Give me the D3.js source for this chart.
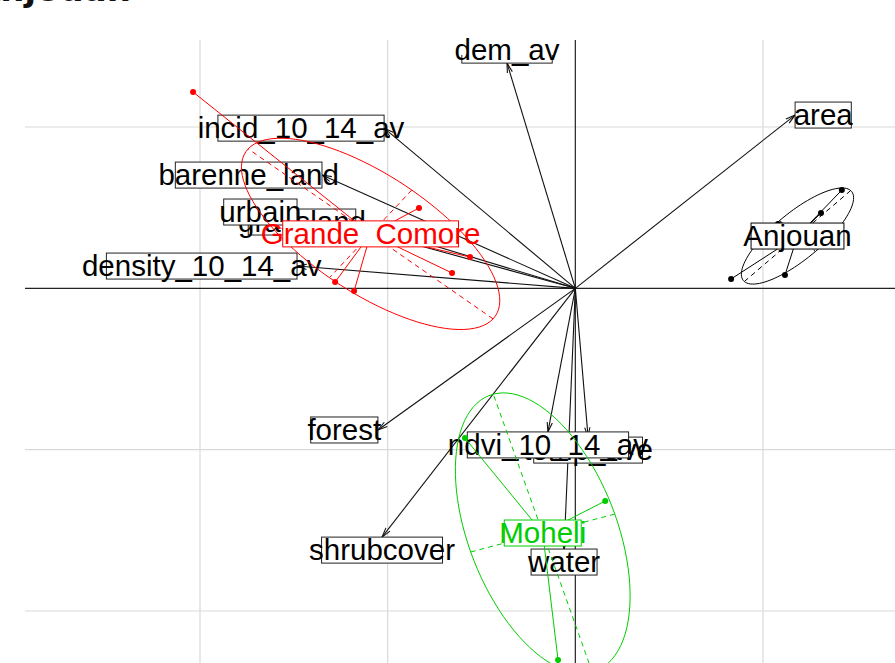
<!DOCTYPE html>
<html><head><meta charset="utf-8">
<script src="https://cdn.jsdelivr.net/npm/d3@7"></script>
<style>body{margin:0;background:#fff;} svg{display:block;}</style>
</head><body>
<svg id="chart" width="895" height="663"></svg>
<script>
// ---------------- data (grid units, origin at 0,0) ----------------
const titleText = "Anjouan";
const varNames = ["dem_av","area","incid_10_14_av","barenne_land","grassland","urbain","density_10_14_av","forest","shrubcover","temp_ave","ndvi_10_14_av","water"];
const varX = [-0.364, 1.171, -1.019, -1.350, -1.170, -1.483, -1.483, -1.052, -1.030, 0.068, -0.146, -0.060];
const varY = [ 1.396, 1.074,  0.993,  0.702,  0.411,  0.473,  0.138, -0.878, -1.542, -0.922, -0.890, -1.616];

const classNames = ["Anjouan","Grande Comore","Moheli"];
const classColors = ["#000000","#FF0000","#00CD00"];
const anjouanX = [1.420, 1.309, 1.117, 0.830, 1.080, 1.347];
const anjouanY = [0.609, 0.467, 0.082, 0.058, 0.399, 0.330];
const grandeComoreX = [-2.037, -0.833, -0.561, -0.657, -1.280, -1.179, -1.089];
const grandeComoreY = [ 1.217,  0.498,  0.194,  0.095,  0.039, -0.017,  0.337];
const moheliX = [-0.588, 0.159, -0.092];
const moheliY = [-0.928, -1.318, -2.304];

const gridX = [-2, -1, 1];
const gridY = [1, -1, -2];

// ---------------- layout ----------------
const W = 895, H = 663;
const plot = {left: 25, top: 40, right: 895, bottom: 663};
const fontSize = 29.5;
const boxH = 26;
const cellipse = 1.5;

const x = d3.scaleLinear().domain([-2, 1]).range([200, 763]);
const y = d3.scaleLinear().domain([1, -2]).range([127, 611]);

const svg = d3.select("#chart");
svg.append("rect").attr("width", W).attr("height", H).attr("fill", "#fff");

// cropped title
svg.append("text").attr("x", -26).attr("y", 1)
  .attr("font-family", "DejaVu Sans").attr("font-weight", "bold").attr("font-size", 34)
  .attr("fill", "#111").text(titleText);

const defs = svg.append("defs");
defs.append("clipPath").attr("id", "plotclip").append("rect")
  .attr("x", plot.left).attr("y", plot.top).attr("width", plot.right - plot.left).attr("height", plot.bottom - plot.top);
defs.append("clipPath").attr("id", "boxclip").append("rect")
  .attr("x", plot.left).attr("y", 55).attr("width", plot.right - plot.left).attr("height", plot.bottom - 55);

const g = svg.append("g").attr("clip-path", "url(#plotclip)");

// grid
g.selectAll("line.gx").data(gridX).enter().append("line")
  .attr("x1", d => x(d)).attr("x2", d => x(d)).attr("y1", plot.top).attr("y2", plot.bottom)
  .attr("stroke", "#d9d9d9").attr("stroke-width", 1.2);
g.selectAll("line.gy").data(gridY).enter().append("line")
  .attr("y1", d => y(d)).attr("y2", d => y(d)).attr("x1", plot.left).attr("x2", plot.right)
  .attr("stroke", "#d9d9d9").attr("stroke-width", 1.2);
// axes through origin
g.append("line").attr("x1", plot.left).attr("x2", plot.right).attr("y1", y(0)).attr("y2", y(0))
  .attr("stroke", "#222").attr("stroke-width", 1.2);
g.append("line").attr("x1", x(0)).attr("x2", x(0)).attr("y1", plot.top).attr("y2", plot.bottom)
  .attr("stroke", "#222").attr("stroke-width", 1.2);

// ---------------- arrows ----------------
const vars = varNames.map((n, i) => ({name: n, ux: varX[i], uy: varY[i]}));
const ox = x(0), oy = y(0);
const headLen = 10, headAng = 15 * Math.PI / 180;
vars.forEach(v => {
  const tx = x(v.ux), ty = y(v.uy);
  g.append("line").attr("x1", ox).attr("y1", oy).attr("x2", tx).attr("y2", ty)
    .attr("stroke", "#111").attr("stroke-width", 1.1);
  const a = Math.atan2(ty - oy, tx - ox);
  [a + Math.PI - headAng, a + Math.PI + headAng].forEach(b => {
    g.append("line").attr("x1", tx).attr("y1", ty)
      .attr("x2", tx + headLen * Math.cos(b)).attr("y2", ty + headLen * Math.sin(b))
      .attr("stroke", "#111").attr("stroke-width", 1.1);
  });
});

// measuring helper
const meas = svg.append("text").attr("font-family", "Liberation Sans, Arial, sans-serif")
  .attr("font-size", fontSize).attr("visibility", "hidden");
function textW(s) { meas.text(s); return meas.node().getComputedTextLength(); }
function boxWidth(s) { return 0.745 * (textW(s) + 0.556 * fontSize); }

// arrow labels (ade4 eti.circ placement)
const lab = svg.append("g");
vars.forEach(v => {
  const tx = x(v.ux), ty = y(v.uy);
  const bw = boxWidth(v.name);
  let cx, cy;
  const xr = v.ux, yr = v.uy;
  if (xr > yr && xr > -yr) { cx = tx + bw / 2; cy = ty; }
  else if (xr > yr && xr <= -yr) { cx = tx; cy = ty + boxH / 2; }
  else if (xr <= yr && xr <= -yr) { cx = tx - bw / 2; cy = ty; }
  else { cx = tx; cy = ty - boxH / 2; }
  lab.append("rect").attr("clip-path", "url(#boxclip)")
    .attr("x", cx - bw / 2).attr("y", cy - boxH / 2).attr("width", bw).attr("height", boxH)
    .attr("fill", "#fff").attr("stroke", "#222").attr("stroke-width", 1);
  lab.append("text").attr("x", cx).attr("y", cy + 0.33 * fontSize)
    .attr("text-anchor", "middle").attr("font-family", "Liberation Sans, Arial, sans-serif")
    .attr("font-size", fontSize).attr("fill", "#000").text(v.name);
});

// ---------------- classes ----------------
const classPts = [
  anjouanX.map((d, i) => [d, anjouanY[i]]),
  grandeComoreX.map((d, i) => [d, grandeComoreY[i]]),
  moheliX.map((d, i) => [d, moheliY[i]])
];
const cg = svg.append("g").attr("clip-path", "url(#plotclip)");

function ellipseOf(pts) {
  const n = pts.length;
  const m1 = d3.mean(pts, p => p[0]), m2 = d3.mean(pts, p => p[1]);
  const vx = d3.sum(pts, p => (p[0] - m1) ** 2) / n;
  const vy = d3.sum(pts, p => (p[1] - m2) ** 2) / n;
  const cxy = d3.sum(pts, p => (p[0] - m1) * (p[1] - m2)) / n;
  const delta = Math.sqrt((vx - vy) ** 2 + 4 * cxy * cxy);
  let l1 = (vx + vy + delta) / 2, l2 = vx + vy - l1;
  l1 = Math.sqrt(Math.max(l1, 0)); l2 = Math.sqrt(Math.max(l2, 0));
  let a0 = 1, b0 = (l1 * l1 - vx) / cxy;
  const nr = Math.hypot(a0, b0); a0 /= nr; b0 /= nr;
  const c11 = cellipse * a0 * l1, c12 = -cellipse * b0 * l2;
  const c21 = cellipse * b0 * l1, c22 = cellipse * a0 * l2;
  const poly = d3.range(100).map(i => {
    const t = 2 * Math.PI * i / 100;
    return [m1 + c11 * Math.cos(t) + c12 * Math.sin(t), m2 + c21 * Math.cos(t) + c22 * Math.sin(t)];
  });
  return {m1, m2, poly,
    seg1: [m1 + c11, m2 + c21, m1 - c11, m2 - c21],
    seg2: [m1 + c12, m2 + c22, m1 - c12, m2 - c22]};
}

const ells = classPts.map(ellipseOf);
const lineGen = d3.line().x(p => x(p[0])).y(p => y(p[1])).curve(d3.curveLinearClosed);

ells.forEach((e, k) => {
  const col = classColors[k];
  cg.append("path").attr("d", lineGen(e.poly)).attr("fill", "none").attr("stroke", col).attr("stroke-width", 1);
  [e.seg1, e.seg2].forEach(s => {
    cg.append("line").attr("x1", x(s[0])).attr("y1", y(s[1])).attr("x2", x(s[2])).attr("y2", y(s[3]))
      .attr("stroke", col).attr("stroke-width", 1).attr("stroke-dasharray", "5,4");
  });
});
classPts.forEach((pts, k) => {
  const col = classColors[k], e = ells[k];
  pts.forEach(p => {
    cg.append("line").attr("x1", x(e.m1)).attr("y1", y(e.m2)).attr("x2", x(p[0])).attr("y2", y(p[1]))
      .attr("stroke", col).attr("stroke-width", 1);
  });
});
classPts.forEach((pts, k) => {
  cg.selectAll(null).data(pts).enter().append("circle")
    .attr("cx", p => x(p[0])).attr("cy", p => y(p[1])).attr("r", 3).attr("fill", classColors[k]);
});
classNames.forEach((nm, k) => {
  const e = ells[k];
  const cx = x(e.m1), cy = y(e.m2);
  const bw = boxWidth(nm) + (nm.includes(" ") ? 6 : 0);
  svg.append("rect").attr("x", cx - bw / 2).attr("y", cy - boxH / 2).attr("width", bw).attr("height", boxH)
    .attr("fill", "#fff").attr("stroke", classColors[k]).attr("stroke-width", 1);
  svg.append("text").attr("x", cx).attr("y", cy + 0.33 * fontSize).attr("text-anchor", "middle")
    .attr("font-family", "Liberation Sans, Arial, sans-serif").attr("font-size", fontSize)
    .attr("word-spacing", 8).attr("fill", classColors[k]).text(nm);
});
meas.remove();
</script>
</body></html>
